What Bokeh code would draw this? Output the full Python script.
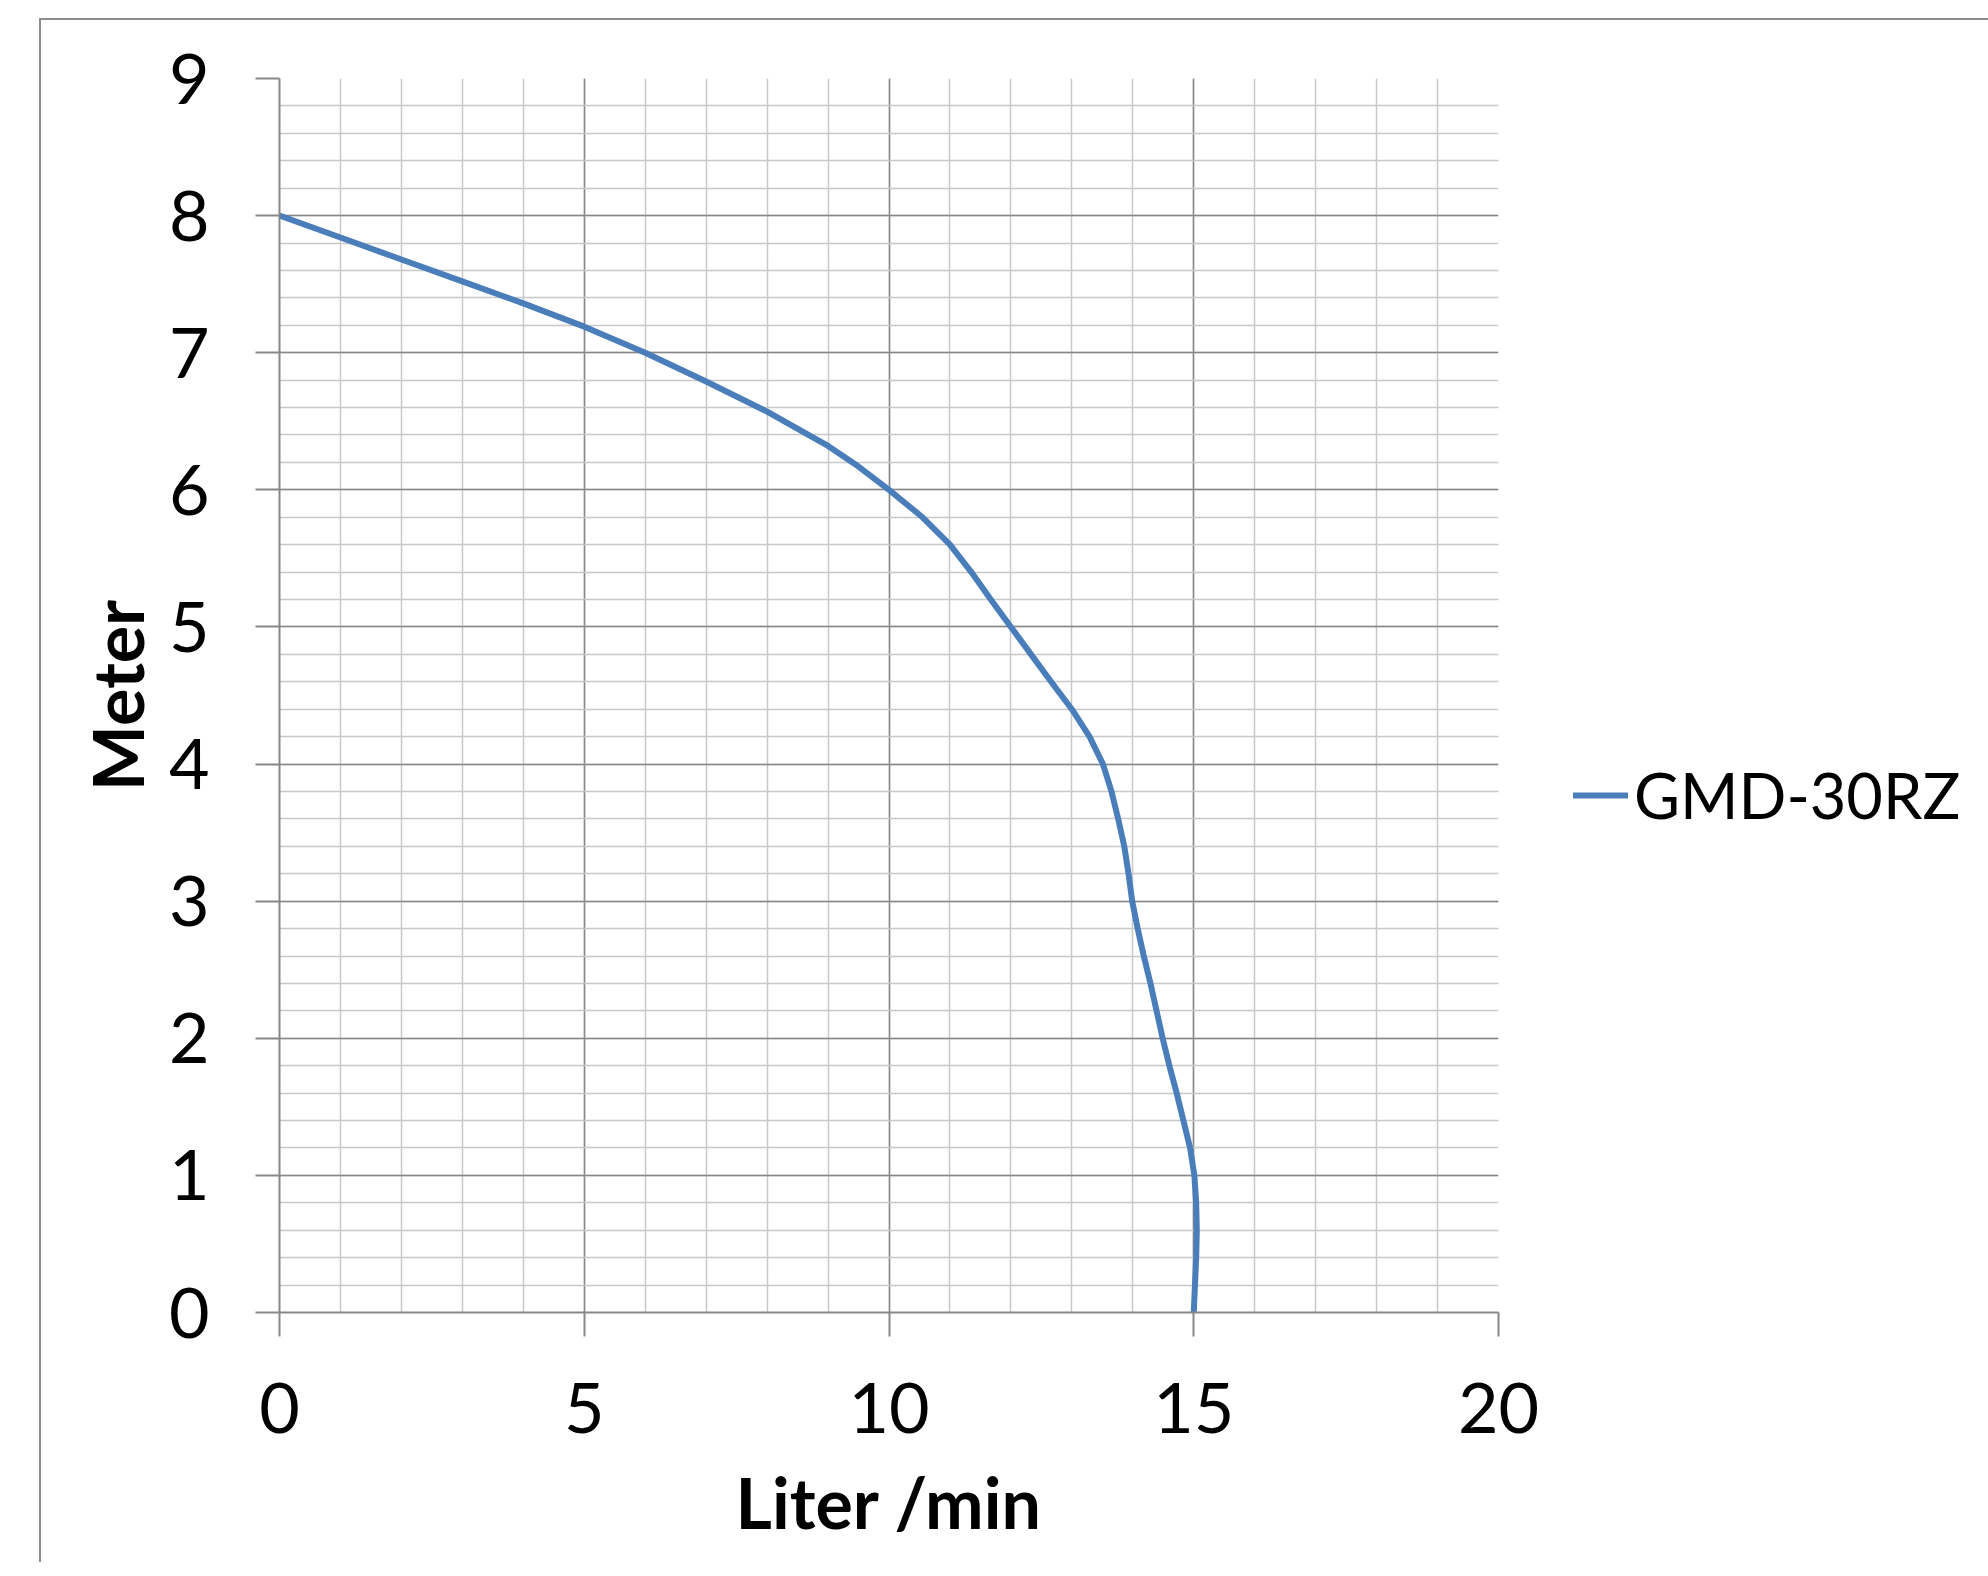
from bokeh.plotting import figure
from bokeh.models import Legend, LegendItem, Spacer, FixedTicker, Range1d
from bokeh.layouts import row, column
from bokeh.embed import file_html
from bokeh.resources import INLINE

# Data (Liter/min vs Meter)
flow = [0, 1, 2, 3, 4, 5, 6, 7, 8, 9, 9.5, 10, 10.55, 11, 11.35, 11.67, 12, 12.33,
        12.66, 13, 13.29, 13.51, 13.65, 13.76, 13.86, 13.93, 13.99, 14.08, 14.18,
        14.29, 14.39, 14.49, 14.6, 14.72, 14.83, 14.94, 15.01, 15.04, 15.05, 15.04,
        15.02, 15.0]
head = [8, 7.84, 7.68, 7.52, 7.36, 7.19, 7.0, 6.79, 6.57, 6.32, 6.17, 6.0, 5.8, 5.6,
        5.4, 5.2, 5.0, 4.8, 4.6, 4.4, 4.2, 4.0, 3.8, 3.6, 3.4, 3.2, 3.0, 2.8, 2.6,
        2.4, 2.2, 2.0, 1.8, 1.6, 1.4, 1.2, 1.0, 0.8, 0.6, 0.4, 0.2, 0.0]
series_name = "GMD-30RZ"
x_ticks = [0, 5, 10, 15, 20]
y_ticks = [0, 1, 2, 3, 4, 5, 6, 7, 8, 9]
x_minor = list(range(0, 21))
y_minor = [i / 5 for i in range(0, 46)]
x_title = "Liter /min"
y_title = "Meter"

FONT = "Lato"
MAJOR = "#878787"
MINOR = "#c8c8c8"

p = figure(frame_width=1217, frame_height=1232, output_backend="svg", toolbar_location=None,
           x_range=Range1d(0, 20), y_range=Range1d(0, 9),
           min_border_left=238, min_border_top=58, min_border_right=0,
           min_border_bottom=252)
p.outline_line_color = None
p.background_fill_color = "white"
p.border_fill_color = "white"

for ax, ticks, minor in ((p.xaxis[0], x_ticks, x_minor), (p.yaxis[0], y_ticks, y_minor)):
    ax.ticker = FixedTicker(ticks=ticks, minor_ticks=minor)
    ax.axis_line_color = MAJOR
    ax.axis_line_width = 2
    ax.major_tick_line_color = MAJOR
    ax.major_tick_line_width = 2
    ax.major_tick_out = 24
    ax.major_tick_in = 0
    ax.minor_tick_line_color = None
    ax.major_label_text_font = FONT
    ax.major_label_text_font_size = "70px"
    ax.major_label_text_color = "black"
    ax.axis_label_text_font = FONT
    ax.axis_label_text_font_size = "70px"
    ax.axis_label_text_font_style = "bold"
    ax.axis_label_text_color = "black"

p.xaxis[0].axis_label = x_title
p.yaxis[0].axis_label = y_title
p.xaxis[0].major_label_standoff = 46
p.yaxis[0].major_label_standoff = 46
p.xaxis[0].axis_label_standoff = 24
p.yaxis[0].axis_label_standoff = 7

for g in (p.xgrid[0], p.ygrid[0]):
    g.grid_line_color = MAJOR
    g.grid_line_width = 1.5
    g.minor_grid_line_color = MINOR
    g.minor_grid_line_width = 1.5
    g.level = "underlay"

r = p.line(flow, head, line_color="#4a7ebb", line_width=6, line_join="round", line_cap="round")

legend = Legend(items=[LegendItem(label=series_name, renderers=[r])],
                location=(75, 480), orientation="vertical",
                padding=0, margin=0, spacing=0,
                glyph_width=55, glyph_height=60, label_height=60,
                label_standoff=6, border_line_color=None,
                background_fill_alpha=0,
                label_text_font=FONT, label_text_font_size="63px",
                label_text_color="black", label_text_baseline="middle")
p.add_layout(legend, "right")

p.styles = {"border-left": "2px solid #8c8c8c", "border-top": "2px solid #8c8c8c"}

layout = row(Spacer(width=39, height=1568),
             column(Spacer(width=1900, height=18), p))

open("out.html", "w").write(file_html(layout, INLINE))
